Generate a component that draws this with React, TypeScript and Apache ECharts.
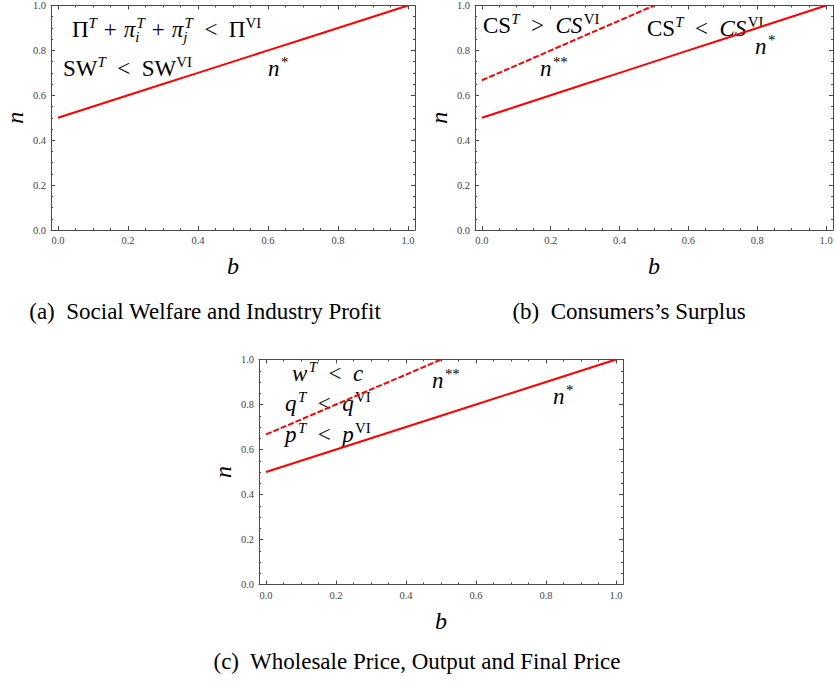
import React, { useEffect, useRef } from 'react';
import * as echarts from 'echarts';

// ---- data ----
const bValues = [0, 0.1, 0.2, 0.3, 0.4, 0.5, 0.6, 0.7, 0.8, 0.9, 1.0];
const nStar = [0.5, 0.55, 0.6, 0.65, 0.7, 0.75, 0.8, 0.85, 0.9, 0.95, 1.0];
const bValuesDouble = [0, 0.1, 0.2, 0.3, 0.4, 0.5];
const nDoubleStar = [0.667, 0.733, 0.8, 0.867, 0.933, 1.0];
const tickLabels = ['0.0', '0.2', '0.4', '0.6', '0.8', '1.0'];
const captions = [
  '(a)  Social Welfare and Industry Profit',
  '(b)  Consumers\u2019s Surplus',
  '(c)  Wholesale Price, Output and Final Price',
];

const SERIF = '"Liberation Serif", "Times New Roman", serif';
const RED = '#ff0000';
const FRAME = '#4a4a4a';

const panels = [
  { left: 51, top: 5, width: 364, height: 225, dashed: false },
  { left: 475, top: 5, width: 364, height: 225, dashed: true },
  { left: 259, top: 359.5, width: 364, height: 225, dashed: true },
];

// ---- text helpers for math-like annotations ----
let measureCtx: CanvasRenderingContext2D | null = null;
function fontOf(size: number, italic?: boolean) {
  return `${italic ? 'italic ' : ''}${size}px ${SERIF}`;
}
function textW(t: string, size: number, italic?: boolean) {
  if (!measureCtx) measureCtx = document.createElement('canvas').getContext('2d');
  measureCtx!.font = fontOf(size, italic);
  return measureCtx!.measureText(t).width;
}
function txt(x: number, baseline: number, t: string, size: number, italic?: boolean, align = 'left') {
  return {
    type: 'text',
    x,
    y: baseline - 0.34 * size,
    silent: true,
    style: { text: t, font: fontOf(size, italic), fill: '#000', align, verticalAlign: 'middle' },
  };
}
type Tok = { t?: string; i?: boolean; sup?: string; supI?: boolean; sub?: string; subI?: boolean; op?: 'bin' | 'rel' };
function formula(x0: number, base: number, size: number, toks: Tok[]) {
  const els: any[] = [];
  const ss = size * 0.65;
  let x = x0;
  for (const tk of toks) {
    const gap = tk.op === 'bin' ? size * 0.3 : tk.op === 'rel' ? size * 0.5 : 0;
    x += gap;
    if (tk.t) {
      els.push(txt(x, base, tk.t, size, tk.i));
      x += textW(tk.t, size, tk.i);
    }
    if (tk.sup || tk.sub) {
      let end = x;
      if (tk.sup) {
        const xs = x + (tk.i ? size * 0.06 : 0);
        els.push(txt(xs, base - size * 0.4, tk.sup, ss, tk.supI));
        end = Math.max(end, xs + textW(tk.sup, ss, tk.supI));
      }
      if (tk.sub) {
        els.push(txt(x, base + size * 0.24, tk.sub, ss, tk.subI));
        end = Math.max(end, x + textW(tk.sub, ss, tk.subI));
      }
      x = end;
    }
    x += gap;
  }
  return els;
}

function buildGraphics() {
  const S = 23;
  const els: any[] = [];
  // panel (a)
  els.push(...formula(72, 37, S, [
    { t: '\u03A0', sup: 'T', supI: true },
    { t: '+', op: 'bin' },
    { t: '\u03C0', i: true, sup: 'T', supI: true, sub: 'i', subI: true },
    { t: '+', op: 'bin' },
    { t: '\u03C0', i: true, sup: 'T', supI: true, sub: 'j', subI: true },
    { t: '<', op: 'rel' },
    { t: '\u03A0', sup: 'VI' },
  ]));
  els.push(...formula(63, 76, S, [
    { t: 'SW', sup: 'T', supI: true },
    { t: '<', op: 'rel' },
    { t: 'SW', sup: 'VI' },
  ]));
  els.push(...formula(268, 76, S, [{ t: 'n', i: true, sup: '*' }]));
  // panel (b)
  els.push(...formula(483, 33, S, [
    { t: 'CS', sup: 'T', supI: true },
    { t: '>', op: 'rel' },
    { t: 'CS', i: true, sup: 'VI' },
  ]));
  els.push(...formula(647, 36, S, [
    { t: 'CS', sup: 'T', supI: true },
    { t: '<', op: 'rel' },
    { t: 'CS', i: true, sup: 'VI' },
  ]));
  els.push(...formula(540, 76, S, [{ t: 'n', i: true, sup: '**' }]));
  els.push(...formula(755, 54, S, [{ t: 'n', i: true, sup: '*' }]));
  // panel (c)
  els.push(...formula(292, 381, S, [
    { t: 'w', i: true, sup: 'T', supI: true },
    { t: '<', op: 'rel' },
    { t: 'c', i: true },
  ]));
  els.push(...formula(285, 411, S, [
    { t: 'q', i: true, sup: 'T', supI: true },
    { t: '<', op: 'rel' },
    { t: 'q', i: true, sup: 'VI' },
  ]));
  els.push(...formula(285, 442, S, [
    { t: 'p', i: true, sup: 'T', supI: true },
    { t: '<', op: 'rel' },
    { t: 'p', i: true, sup: 'VI' },
  ]));
  els.push(...formula(432, 388, S, [{ t: 'n', i: true, sup: '**' }]));
  els.push(...formula(553, 404, S, [{ t: 'n', i: true, sup: '*' }]));
  // captions
  const capPos = [
    [205, 311],
    [629, 311],
    [417, 661],
  ];
  captions.forEach((c, k) => {
    els.push({
      type: 'text',
      x: capPos[k][0],
      y: capPos[k][1],
      silent: true,
      style: { text: c, font: fontOf(23), fill: '#000', align: 'center', verticalAlign: 'middle' },
    });
  });
  return els;
}

function tickFmt(v: number) {
  const k = Math.round(v * 5);
  if (Math.abs(v - k / 5) > 1e-6 || k < 0 || k >= tickLabels.length) return '';
  return tickLabels[k];
}

function xAxisOf(gridIndex: number, bottom: boolean) {
  return {
    type: 'value',
    gridIndex,
    position: bottom ? 'bottom' : 'top',
    min: -0.02,
    max: 1.02,
    splitNumber: 5,
    name: bottom ? 'b' : '',
    nameLocation: 'middle',
    nameGap: 24,
    nameTextStyle: { fontFamily: SERIF, fontStyle: 'italic', fontSize: 24, color: '#000' },
    axisLine: { show: true, onZero: false, lineStyle: { color: FRAME, width: 1 } },
    axisTick: { show: true, inside: true, length: 4, lineStyle: { color: FRAME, width: 1 } },
    minorTick: { show: true, splitNumber: 4, length: 2, lineStyle: { color: FRAME, width: 1 } },
    axisLabel: { show: bottom, formatter: tickFmt, fontFamily: SERIF, fontSize: 10.5, color: '#444', margin: 5 },
    splitLine: { show: false },
    minorSplitLine: { show: false },
  };
}
function yAxisOf(gridIndex: number, left: boolean) {
  return {
    type: 'value',
    gridIndex,
    position: left ? 'left' : 'right',
    min: 0,
    max: 1,
    interval: 0.2,
    name: left ? 'n' : '',
    nameLocation: 'middle',
    nameRotate: 90,
    nameGap: 24,
    nameTextStyle: { fontFamily: SERIF, fontStyle: 'italic', fontSize: 24, color: '#000' },
    axisLine: { show: true, onZero: false, lineStyle: { color: FRAME, width: 1 } },
    axisTick: { show: true, inside: true, length: 4, lineStyle: { color: FRAME, width: 1 } },
    minorTick: { show: true, splitNumber: 4, length: 2, lineStyle: { color: FRAME, width: 1 } },
    axisLabel: { show: left, formatter: tickFmt, fontFamily: SERIF, fontSize: 10.5, color: '#444', margin: 5 },
    splitLine: { show: false },
    minorSplitLine: { show: false },
  };
}

export default function App() {
  const ref = useRef<HTMLDivElement>(null);
  useEffect(() => {
    if (!ref.current) return;
    const chart = echarts.init(ref.current, undefined, { renderer: 'svg' });
    const solidData = bValues.map((b, i) => [b, nStar[i]]);
    const dashedData = bValuesDouble.map((b, i) => [b, nDoubleStar[i]]);
    const series: any[] = [];
    panels.forEach((p, g) => {
      series.push({
        type: 'line',
        name: 'n*',
        xAxisIndex: g,
        yAxisIndex: g,
        data: solidData,
        showSymbol: false,
        symbol: 'none',
        lineStyle: { color: RED, width: 2 },
        silent: true,
      });
      if (p.dashed) {
        series.push({
          type: 'line',
          name: 'n**',
          xAxisIndex: g,
          yAxisIndex: g,
          data: dashedData,
          showSymbol: false,
          symbol: 'none',
          lineStyle: { color: RED, width: 2, type: [6, 2] },
          silent: true,
        });
      }
    });
    chart.setOption({
      animation: false,
      backgroundColor: '#ffffff',
      grid: panels.map((p) => ({ left: p.left, top: p.top, width: p.width, height: p.height, containLabel: false })),
      xAxis: [0, 1, 2].map((g) => xAxisOf(g, true)).concat([0, 1, 2].map((g) => xAxisOf(g, false))),
      yAxis: [0, 1, 2].map((g) => yAxisOf(g, true)).concat([0, 1, 2].map((g) => yAxisOf(g, false))),
      series,
      graphic: { elements: buildGraphics() },
    });
    return () => chart.dispose();
  }, []);
  return (
    <div
      ref={ref}
      style={{ position: 'absolute', left: 0, top: 0, width: 836, height: 681, background: '#fff' }}
    />
  );
}
